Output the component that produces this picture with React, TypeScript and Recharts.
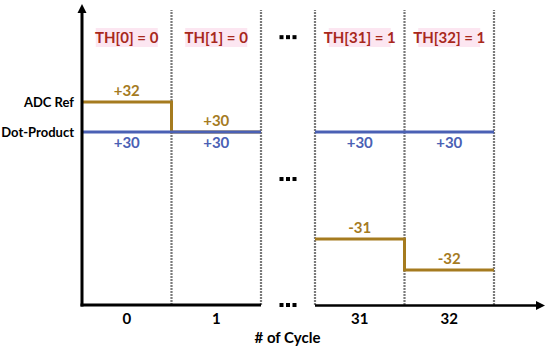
import {
  Line,
  LineChart,
  ReferenceArea,
  ReferenceDot,
  ReferenceLine,
  XAxis,
  YAxis,
} from "recharts";

const cycles = [0, 1, 31, 32];
const thresholds = [0, 0, 1, 1];
const adcRef = [32, 30, -31, -32];
const dotProduct = [30, 30, 30, 30];
const yTickValues = [32, 30];
const yTickLabels = ["ADC Ref", "Dot-Product"];

const BROWN = "#a57b1f";
const BLUE = "#4a60b4";
const RED = "#a8281c";
const PINK = "#fce6f1";
const GRID = "#7a7a7a";

// broken axes: [value, fraction of the axis range]
const X_KNOTS: [number, number][] = [
  [0, 0],
  [2, 179 / 463],
  [31, 233 / 463],
  [33, 412 / 463],
  [33.57, 1],
];
const Y_KNOTS: [number, number][] = [
  [-33.1, 0],
  [-32, 35 / 301],
  [-31, 66 / 301],
  [30, 173 / 301],
  [32, 203 / 301],
  [38.5, 1],
];

function brokenScale(knots: [number, number][]): any {
  let dom = [knots[0][0], knots[knots.length - 1][0]];
  let rng = [0, 1];
  const frac = (v: number) => {
    for (let i = 1; i < knots.length; i++) {
      const [v0, f0] = knots[i - 1];
      const [v1, f1] = knots[i];
      if (v <= v1 || i === knots.length - 1) return f0 + ((v - v0) / (v1 - v0)) * (f1 - f0);
    }
    return 0;
  };
  const scale: any = (v: number) => rng[0] + frac(v) * (rng[1] - rng[0]);
  scale.domain = (d?: number[]) => {
    if (d === undefined) return dom;
    dom = d;
    return scale;
  };
  scale.range = (r?: number[]) => {
    if (r === undefined) return rng;
    rng = r;
    return scale;
  };
  scale.copy = () => brokenScale(knots).domain(dom).range(rng);
  scale.ticks = () => knots.map((k) => k[0]);
  return scale;
}

const xMin = X_KNOTS[0][0];
const xMax = X_KNOTS[X_KNOTS.length - 1][0];
const yMin = Y_KNOTS[0][0];
const yMax = Y_KNOTS[Y_KNOTS.length - 1][0];

// consecutive cycles form a panel, skipped cycles make the gap
const panels: number[][] = [];
cycles.forEach((c, i) => {
  if (i === 0 || c !== cycles[i - 1] + 1) panels.push([]);
  panels[panels.length - 1].push(i);
});

function stepRows(values: number[]) {
  const rows: { x: number; y: number | null }[] = [];
  panels.forEach((idx, p) => {
    if (p > 0) rows.push({ x: cycles[idx[0]] - 0.5, y: null });
    idx.forEach((i) => rows.push({ x: cycles[i], y: values[i] }));
    const last = idx[idx.length - 1];
    rows.push({ x: cycles[last] + 1, y: values[last] });
  });
  return rows;
}

const boundaries = [
  ...panels.slice(1).map((idx) => cycles[idx[0]]),
  ...cycles.map((c) => c + 1),
];
const gapCenters = panels.slice(1).map((idx, p) => {
  const prev = panels[p];
  return (cycles[prev[prev.length - 1]] + 1 + cycles[idx[0]]) / 2;
});
const ellipsisLevels = [36.3, 3.2, yMin];

const fmt = (v: number) => (v > 0 ? `+${v}` : `${v}`);
const bold = { fontWeight: 700, fontFamily: "Lato, sans-serif" };

const axisShape = (arrow: "up" | "right" | null, w: number) => (p: any) => {
  const { x1, y1, x2, y2 } = p;
  if (arrow === "up") {
    const top = Math.min(y1, y2);
    const bottom = Math.max(y1, y2);
    return (
      <g>
        <line x1={x1} y1={bottom + 1.5} x2={x1} y2={top + 8} stroke="#000" strokeWidth={w} />
        <polygon points={`${x1},${top} ${x1 - 4.5},${top + 9} ${x1 + 4.5},${top + 9}`} fill="#000" />
      </g>
    );
  }
  if (arrow === "right") {
    const right = Math.max(x1, x2);
    const left = Math.min(x1, x2);
    return (
      <g>
        <line x1={left} y1={y1 + 0.5} x2={right - 8} y2={y1 + 0.5} stroke="#000" strokeWidth={w} />
        <polygon points={`${right},${y1 + 0.5} ${right - 9},${y1 - 4} ${right - 9},${y1 + 5}`} fill="#000" />
      </g>
    );
  }
  return <line x1={x1 - 1.5} y1={y1} x2={x2} y2={y2} stroke="#000" strokeWidth={w} />;
};

const thLabel = (text: string) => (props: any) => {
  const vb = props.viewBox;
  const cx = vb.x + vb.width / 2;
  const cy = vb.y + 33;
  return (
    <g>
      <rect x={cx - 31} y={cy - 9} width={62} height={19} fill={PINK} />
      <text x={cx} y={cy} textAnchor="middle" dominantBaseline="central" fill={RED} fontSize={15} style={bold}>
        {text}
      </text>
    </g>
  );
};

const ellipsis = (p: any) => (
  <g>
    {[-6.5, 0, 6.5].map((d) => (
      <rect key={d} x={p.cx + d - 2} y={p.cy - 2} width={4} height={4} fill="#000" />
    ))}
  </g>
);

export default function App() {
  const xScale = brokenScale(X_KNOTS);
  const yScale = brokenScale(Y_KNOTS);
  return (
    <div style={{ position: "absolute", left: 0, top: 0, fontFamily: "Lato, sans-serif" }}>
      <LineChart width={550} height={351} margin={{ top: 4, right: 5, bottom: 0, left: 0 }}>
        <XAxis
          type="number"
          dataKey="x"
          domain={[xMin, xMax]}
          scale={xScale}
          allowDataOverflow
          ticks={cycles.map((c) => c + 0.5)}
          interval={0}
          tickFormatter={(v: number) => String(Math.floor(v))}
          axisLine={false}
          tickLine={false}
          tickSize={0}
          tickMargin={8}
          height={46}
          tick={{ fill: "#000", fontSize: 15, ...bold }}
          label={{ value: "# of Cycle", position: "insideBottom", offset: 8, dx: -26, fill: "#000", fontSize: 15, ...bold }}
        />
        <YAxis
          type="number"
          domain={[yMin, yMax]}
          scale={yScale}
          allowDataOverflow
          ticks={yTickValues}
          interval={0}
          tickFormatter={(v: number) => yTickLabels[yTickValues.indexOf(v)]}
          axisLine={false}
          tickLine={false}
          tickSize={0}
          tickMargin={8}
          width={82}
          tick={{ fill: "#000", fontSize: 13, ...bold }}
        />
        {cycles.map((c, i) => (
          <ReferenceArea
            key={`th-${c}`}
            x1={c}
            x2={c + 1}
            fill="none"
            fillOpacity={0}
            stroke="none"
            ifOverflow="visible"
            label={{ content: thLabel(`TH[${c}] = ${thresholds[i]}`) }}
          />
        ))}
        {boundaries.map((b) => (
          <ReferenceLine
            key={`b-${b}`}
            segment={[
              { x: b, y: yMin },
              { x: b, y: 38.1 },
            ]}
            stroke={GRID}
            strokeWidth={2.2}
            strokeDasharray="2 1"
            ifOverflow="visible"
          />
        ))}
        <Line
          data={stepRows(adcRef)}
          dataKey="y"
          type="stepAfter"
          stroke={BROWN}
          strokeWidth={3}
          dot={false}
          activeDot={false}
          isAnimationActive={false}
        />
        <Line
          data={stepRows(dotProduct)}
          dataKey="y"
          type="stepAfter"
          stroke={BLUE}
          strokeWidth={3}
          dot={false}
          activeDot={false}
          isAnimationActive={false}
        />
        <ReferenceLine
          segment={[
            { x: xMin, y: yMin },
            { x: xMin, y: yMax },
          ]}
          shape={axisShape("up", 3)}
          ifOverflow="visible"
        />
        {panels.map((idx, p) => (
          <ReferenceLine
            key={`ax-${p}`}
            segment={[
              { x: cycles[idx[0]], y: yMin },
              { x: p === panels.length - 1 ? xMax : cycles[idx[idx.length - 1]] + 1, y: yMin },
            ]}
            shape={axisShape(p === panels.length - 1 ? "right" : null, p === panels.length - 1 ? 2.5 : 3)}
            ifOverflow="visible"
          />
        ))}
        {gapCenters.map((g) =>
          ellipsisLevels.map((lv) => (
            <ReferenceDot key={`e-${g}-${lv}`} x={g} y={lv} shape={ellipsis} ifOverflow="visible" />
          ))
        )}
        {cycles.map((c, i) => (
          <ReferenceDot
            key={`adc-${c}`}
            x={c + 0.5}
            y={adcRef[i]}
            r={0}
            fill="none"
            stroke="none"
            ifOverflow="visible"
            label={{ value: fmt(adcRef[i]), position: "top", offset: 6, fill: BROWN, fontSize: 15, ...bold }}
          />
        ))}
        {cycles.map((c, i) => (
          <ReferenceDot
            key={`dp-${c}`}
            x={c + 0.5}
            y={dotProduct[i]}
            r={0}
            fill="none"
            stroke="none"
            ifOverflow="visible"
            label={{ value: fmt(dotProduct[i]), position: "bottom", offset: 5, fill: BLUE, fontSize: 15, ...bold }}
          />
        ))}
      </LineChart>
    </div>
  );
}
